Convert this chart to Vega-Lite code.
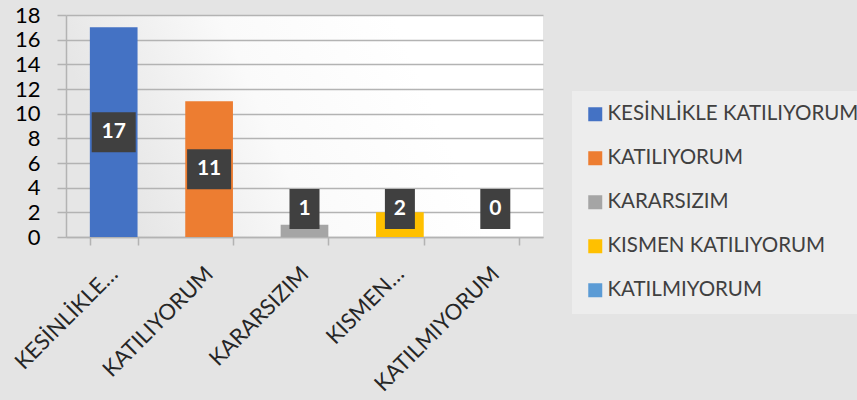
{
  "$schema": "https://vega.github.io/schema/vega-lite/v6.json",
  "width": 477,
  "height": 222,
  "autosize": {"type": "none"},
  "padding": {"left": 66, "top": 15, "right": 314, "bottom": 163},
  "background": "#e4e4e4",
  "config": {
    "view": {
      "stroke": null,
      "fill": {"gradient": "linear", "x1": 0, "y1": 0.2, "x2": 1, "y2": 0, "stops": [
        {"offset": 0, "color": "#e6e6e6"},
        {"offset": 0.35, "color": "#fafafa"},
        {"offset": 0.7, "color": "#ffffff"},
        {"offset": 1, "color": "#ffffff"}
      ]}
    },
    "font": "Lato",
    "axisY": {
      "labelOverlap": false,
      "labelFontSize": 22, "labelColor": "#000000",
      "tickSize": 9, "tickColor": "#b3b3b3", "tickWidth": 1.5,
      "domainColor": "#b3b3b3", "domainWidth": 1.5,
      "gridColor": "#b3b3b3", "gridWidth": 1.5, "labelPadding": 17
    }
  },
  "data": {"values": [
    {"cevap": "KESİNLİKLE KATILIYORUM", "sayi": 17},
    {"cevap": "KATILIYORUM", "sayi": 11},
    {"cevap": "KARARSIZIM", "sayi": 1},
    {"cevap": "KISMEN KATILIYORUM", "sayi": 2},
    {"cevap": "KATILMIYORUM", "sayi": 0}
  ]},
  "transform": [
    {"calculate": "max(datum.sayi / 2, 2.27)", "as": "mid"},
    {"calculate": "datum.mid - 1.62", "as": "lo"},
    {"calculate": "datum.mid + 1.62", "as": "hi"}
  ],
  "encoding": {
    "x": {
      "field": "cevap", "type": "nominal", "sort": null, "title": null,
      "scale": {"paddingInner": 0.5, "paddingOuter": 0.25},
      "axis": {
        "labelAngle": -45, "labelFontSize": 22, "labelColor": "#262626",
        "labelExpr": "indexof(datum.label, ' ') > 0 ? split(datum.label, ' ')[0] + '…' : datum.label",
        "tickBand": "extent", "tickSize": 8, "tickColor": "#b3b3b3", "tickWidth": 1.5,
        "domainColor": "#b3b3b3", "domainWidth": 1.5,
        "labelPadding": 25, "labelAlign": "right", "labelBaseline": "middle"
      }
    }
  },
  "layer": [
    {
      "mark": {"type": "bar"},
      "encoding": {
        "y": {
          "field": "sayi", "type": "quantitative", "title": null,
          "scale": {"domain": [0, 18]},
          "axis": {"values": [0, 2, 4, 6, 8, 10, 12, 14, 16, 18]}
        },
        "color": {
          "field": "cevap", "type": "nominal", "sort": null,
          "scale": {
            "domain": ["KESİNLİKLE KATILIYORUM", "KATILIYORUM", "KARARSIZIM", "KISMEN KATILIYORUM", "KATILMIYORUM"],
            "range": ["#4472C4", "#ED7D31", "#A5A5A5", "#FFC000", "#5B9BD5"]
          },
          "legend": {
            "orient": "none", "legendX": 506, "legendY": 76, "title": null,
            "symbolType": "square", "symbolSize": 196, "symbolStrokeWidth": 0, "symbolOpacity": 1,
            "labelFontSize": 20.5, "labelColor": "#404040", "labelLimit": 400, "labelOffset": 2,
            "rowPadding": 23, "padding": 13, "fillColor": "rgba(255,255,255,0.35)"
          }
        }
      }
    },
    {
      "mark": {"type": "bar", "color": "#404040"},
      "encoding": {
        "y": {"field": "lo", "type": "quantitative", "title": null, "axis": {"values": [0, 2, 4, 6, 8, 10, 12, 14, 16, 18]}},
        "y2": {"field": "hi"},
        "size": {"condition": {"test": "datum.sayi >= 10", "value": 44}, "value": 30}
      }
    },
    {
      "mark": {"type": "text", "color": "#ffffff", "fontWeight": "bold", "fontSize": 21, "baseline": "middle"},
      "encoding": {
        "y": {"field": "mid", "type": "quantitative", "title": null, "axis": {"values": [0, 2, 4, 6, 8, 10, 12, 14, 16, 18]}},
        "text": {"field": "sayi", "type": "quantitative"}
      }
    }
  ]
}
